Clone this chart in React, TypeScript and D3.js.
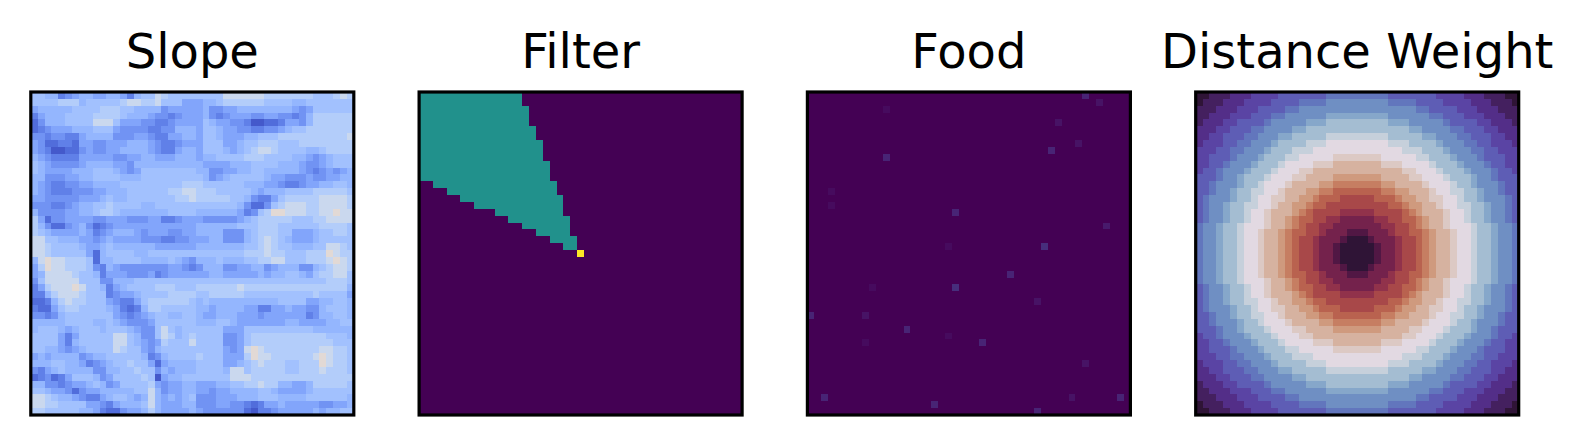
import { useEffect, useRef } from "react";
import * as d3 from "d3";

const width = 1590;
const height = 446;
const panelTop = 92;
const panelSize = 323;
const gridSize = 47;

const titles = ["Slope", "Filter", "Food", "Distance Weight"];

// Slope: one code per cell, 0 = darkest blue ... 9 = light peach
const slopeRows = [
  "665523455445542566876666" + "66668888887777777666787",
  "666677756666678877866644" + "45567777776666556666666",
  "455555666677766555534444" + "45334455555555434666666",
  "245556666777765554332344" + "45323444334433235777777",
  "135556666888644433223444" + "46544332001124435777777",
  "123444555666433332233555" + "46654433223345667777777",
  "332332245555333443224455" + "46654445566677777777778",
  "431122144334445554322344" + "46664456677766677777777",
  "432001134334455554322455" + "46665456788766665567777",
  "543222244444334455444555" + "45566667776666554345666",
  "654333345555443555555555" + "54444555666655543345666",
  "654444555666543466666666" + "55334455665555543234345",
  "553334455666655566666666" + "65345666665443334334455",
  "543223344555566666666677" + "76666665554432234455665",
  "543222333445556666667788" + "77766666545556666777776",
  "443333344456556666666778" + "77777665322467777788887",
  "333223455667666655666666" + "66666653113678887788887",
  "533334455677655555556666" + "55555542367998887788988",
  "741334444334443334422344" + "43333345677777666778888",
  "753113453123444444444444" + "55555566677766666677776",
  "765444454234555434443344" + "55553335677766444566776",
  "886655544345444433322334" + "44553335678765444566666",
  "887666654456555555444444" + "55555556678766555668876",
  "887666664156666556666666" + "66666667778776667779877",
  "589887776155666655556543" + "55565556677886667778987",
  "479887776325433333334432" + "35553344553455533567887",
  "458888766524443334234444" + "44554444454556654677886",
  "368888866633555666666666" + "66666666666666666667776",
  "247888986652456666777666" + "77777787777777777777775",
  "225788876662344566667777" + "66777776666666666766664",
  "112578776664322467777776" + "56555555555566664455665",
  "211467766665421257766666" + "55455554422445443356665",
  "332356666666432345665566" + "54455544434444442355665",
  "555556666556543334666666" + "55566544444445544445566",
  "566654566656665433686566" + "66664446666666666555555",
  "666642466666886533687567" + "66663346777777777776665",
  "666642566666886543476668" + "66663346777777777777666",
  "665543456666876643566666" + "66664348987777777788776",
  "454555534556666652356666" + "76664447988777777898776",
  "555665542345667664145555" + "66664456787776677798776",
  "324565555335566766354555" + "66665886777776677787776",
  "123124666534666676045566" + "66666888777777777777777",
  "553323445653466667434455" + "44455667787755445777776",
  "665443134455555668534455" + "44344555566544445666666",
  "887655432245665458545456" + "33344455566655556666665",
  "887766664432455568544455" + "33344332124454444433445",
  "776666655421134457544445" + "43333331022344444545566",
];
const slopeCodeValues = [0.03, 0.075, 0.12, 0.17, 0.22, 0.27, 0.31, 0.36, 0.43, 0.52];

// Filter: the teal wedge, one entry per row (first col, end col exclusive)
const filterRowIdx = [0, 1, 2, 3, 4, 5, 6, 7, 8, 9, 10, 11, 12, 13, 14, 15, 16, 17, 18, 19, 20, 21, 22];
const filterStart = [0, 0, 0, 0, 0, 0, 0, 0, 0, 0, 0, 0, 0, 2, 4, 6, 8, 11, 13, 15, 17, 19, 21];
const filterEnd = [15, 15, 16, 16, 16, 17, 17, 18, 18, 18, 19, 19, 19, 20, 20, 21, 21, 21, 22, 22, 22, 23, 23];
const filterWedgeValue = 0.5;
const agentRow = 23;
const agentCol = 23;
const agentValue = 1;

// Food: sparse faint cells
const foodCols = [40, 42, 11, 36, 39, 35, 11, 3, 3, 21, 43, 20, 34, 29, 9, 21, 33, 0, 8, 14, 20, 8, 25, 40, 2, 18, 33, 38, 45];
const foodRows = [0, 1, 2, 4, 7, 8, 9, 14, 16, 17, 19, 22, 22, 26, 28, 28, 30, 32, 32, 34, 35, 36, 36, 39, 44, 45, 46, 44, 44];
const foodVals = [0.1, 0.05, 0.03, 0.05, 0.05, 0.1, 0.1, 0.03, 0.03, 0.1, 0.07, 0.03, 0.13, 0.1, 0.03, 0.13, 0.05, 0.1, 0.05, 0.1, 0.03, 0.03, 0.1, 0.05, 0.1, 0.1, 0.1, 0.05, 0.1];

// Distance weight: top-left quarter up to the centre row/col, codes 0..k = 0..20 (/20)
const distQuarter = [
  "001112223333444444455555",
  "011122233334444555566666",
  "111222333444455666666666",
  "112223334445566666677777",
  "122233444456666677788888",
  "222334445566667788888888",
  "223344455666778888899999",
  "2333445566678888999aaaaa",
  "33344556667888999aaaaaaa",
  "334445666788899aaaaabbbb",
  "3344566678889aaaabbbcccc",
  "344566678889aaabbccccccc",
  "44456678889aaabbccccdddd",
  "4456667889aaabccccddeeee",
  "4456678899aabcccddeeffff",
  "456667889aabbccddefffggg",
  "456678899aabccddeffggggg",
  "45667889aabcccdefgggghhh",
  "45667889aabccdeffgghhiii",
  "5667889aaabccdefgghhiiii",
  "5667889aabccdeffgghiiijj",
  "5667889aabccdefgghiiijkk",
  "5667889aabccdefgghiijkkk",
  "5667889aabccdefgghiijkkk",
];

const coolwarmStops = [
  "#3b4cc0", "#4d68d7", "#6282ea", "#779af7", "#8db0fe", "#a3c2fe",
  "#b8d0f9", "#ccd9ed", "#dddcdc", "#ecd3c5", "#f5c4ac", "#f7b194",
  "#f49a7b", "#ec7f63", "#de604d", "#cb3e38", "#b40426",
];
const twilightShiftedStops = [
  "#2f1436", "#44205f", "#532e88", "#5a44a4", "#5e5db5", "#6276bd",
  "#6f8fc3", "#86a7ca", "#a4bdd2", "#c6d0db", "#e2d9e2", "#dcc9c4",
  "#d6b2a0", "#cf9a7e", "#c67e62", "#b9624f", "#a84849", "#91324b",
  "#74224c", "#511744", "#2f1436",
];

function stopScale(stops: string[]) {
  return d3.scaleLinear<string>()
    .domain(stops.map((_, i) => i / (stops.length - 1)))
    .range(stops)
    .interpolate(d3.interpolateRgb)
    .clamp(true);
}

export default function App() {
  const svgRef = useRef<SVGSVGElement>(null);

  useEffect(() => {
    document.body.style.margin = "0";
    document.body.style.overflow = "hidden";

    const svg = d3.select(svgRef.current);
    svg.selectAll("*").remove();
    svg.attr("viewBox", [0, 0, width, height])
      .attr("width", width)
      .attr("height", height);

    const emptyGrid = () => d3.range(gridSize).map(() => d3.range(gridSize).map(() => 0));

    const slopeGrid = slopeRows.map((row) => row.split("").map((ch) => slopeCodeValues[+ch]));

    const filterGrid = emptyGrid();
    filterRowIdx.forEach((r, i) => {
      d3.range(filterStart[i], filterEnd[i]).forEach((c) => { filterGrid[r][c] = filterWedgeValue; });
    });
    filterGrid[agentRow][agentCol] = agentValue;

    const foodGrid = emptyGrid();
    foodCols.forEach((c, i) => { foodGrid[foodRows[i]][c] = foodVals[i]; });

    const half = (gridSize - 1) / 2;
    const distGrid = d3.range(gridSize).map((r) =>
      d3.range(gridSize).map((c) => {
        const qr = r <= half ? r : gridSize - 1 - r;
        const qc = c <= half ? c : gridSize - 1 - c;
        return parseInt(distQuarter[qr][qc], 36) / 20;
      }));

    const panels = [
      { title: titles[0], grid: slopeGrid, color: stopScale(coolwarmStops) },
      { title: titles[1], grid: filterGrid, color: d3.interpolateViridis },
      { title: titles[2], grid: foodGrid, color: d3.interpolateViridis },
      { title: titles[3], grid: distGrid, color: stopScale(twilightShiftedStops) },
    ];

    const px = d3.scalePoint<string>().domain(titles).range([30.8, 1195.7]);
    const band = d3.scaleBand<number>().domain(d3.range(gridSize)).range([0, panelSize]);

    panels.forEach((p) => {
      const g = svg.append("g")
        .attr("transform", `translate(${px(p.title)},${panelTop})`);

      const cells: { r: number; c: number; v: number }[] = [];
      p.grid.forEach((row, r) => row.forEach((v, c) => cells.push({ r, c, v })));

      g.append("g")
        .attr("shape-rendering", "crispEdges")
        .selectAll("rect")
        .data(cells)
        .join("rect")
        .attr("x", (d) => band(d.c)!)
        .attr("y", (d) => band(d.r)!)
        .attr("width", band.bandwidth() + 0.3)
        .attr("height", band.bandwidth() + 0.3)
        .attr("fill", (d) => p.color(d.v));

      g.append("rect")
        .attr("x", 0)
        .attr("y", 0)
        .attr("width", panelSize)
        .attr("height", panelSize)
        .attr("fill", "none")
        .attr("stroke", "#000")
        .attr("stroke-width", 3.2);

      svg.append("text")
        .attr("x", px(p.title)! + panelSize / 2)
        .attr("y", 68)
        .attr("text-anchor", "middle")
        .attr("font-family", "DejaVu Sans")
        .attr("font-size", 48)
        .attr("fill", "#000")
        .text(p.title);
    });
  }, []);

  return <svg ref={svgRef} style={{ display: "block" }} />;
}
